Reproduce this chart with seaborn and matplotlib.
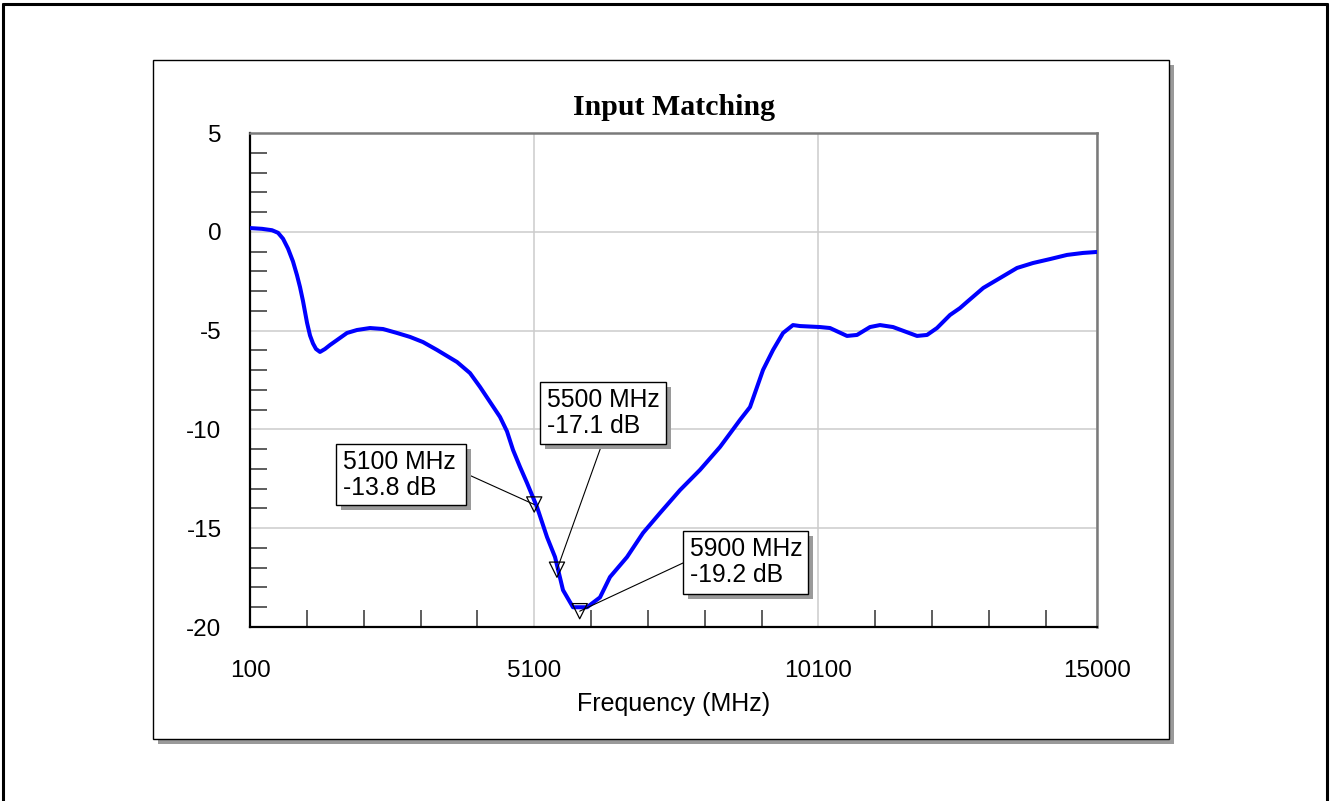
import matplotlib
matplotlib.use("Agg")
import matplotlib.pyplot as plt
from matplotlib.patches import Rectangle
from matplotlib.lines import Line2D
from matplotlib.ticker import FixedLocator, MultipleLocator
import seaborn as sns
import pandas as pd

# Measured input return loss (S11) of the amplifier
freq_mhz = [100, 311, 487, 593, 681, 769, 856, 927, 980, 1032, 1103, 1156, 1208,
            1261, 1331, 1419, 1507, 1630, 1806, 1982, 2211, 2440, 2686, 2915,
            3143, 3390, 3742, 3970, 4146, 4322, 4498, 4621, 4727, 4850, 4973,
            5149, 5325, 5466, 5606, 5782, 6029, 6257, 6433, 6732, 7014, 7313,
            7665, 8016, 8368, 8597, 8720, 8896, 9125, 9301, 9477, 9652, 9776,
            10127, 10303, 10602, 10778, 11007, 11183, 11412, 11834, 12010,
            12185, 12414, 12590, 12713, 13000, 13294, 13593, 13874, 14174,
            14473, 14754, 15000]
s11_db = [0.19, 0.15, 0.08, -0.05, -0.35, -0.85, -1.5, -2.2, -2.8, -3.5, -4.6,
          -5.25, -5.65, -5.93, -6.08, -5.93, -5.73, -5.48, -5.12, -4.97, -4.87,
          -4.92, -5.12, -5.32, -5.58, -5.98, -6.59, -7.15, -7.85, -8.61, -9.37,
          -10.1, -11.04, -11.9, -12.71, -13.93, -15.45, -16.46, -18.13, -19.0,
          -19.0, -18.5, -17.47, -16.46, -15.24, -14.23, -13.07, -12.05, -10.89,
          -10.0, -9.52, -8.87, -6.99, -5.98, -5.12, -4.72, -4.77, -4.82, -4.87,
          -5.27, -5.22, -4.82, -4.72, -4.82, -5.27, -5.22, -4.87, -4.21, -3.86,
          -3.55, -2.84, -2.34, -1.83, -1.58, -1.38, -1.17, -1.07, -1.02]

# Marker readouts
marker_freq = [5100, 5500, 5900]
marker_db = [-13.8, -17.1, -19.2]

x_ticks = [100, 5100, 10100, 15000]
y_ticks = [-20, -15, -10, -5, 0, 5]

sns.set_style("white")
plt.rcParams["font.family"] = ["Liberation Sans", "DejaVu Sans"]
plt.rcParams["axes.unicode_minus"] = False
plt.rcParams["text.color"] = "black"
plt.rcParams["xtick.color"] = "black"
plt.rcParams["ytick.color"] = "black"

W, H = 1330, 801
fig = plt.figure(figsize=(W / 100, H / 100), dpi=100)
fig.patch.set_facecolor("white")


def fx(px):
    return px / W


def fy(py):
    return 1 - py / H


# outer page frame
for xs, ys in [((3, 3), (4, 810)), ((3, 1327), (4, 4)), ((1327, 1327), (4, 810))]:
    fig.add_artist(Line2D([fx(x) for x in xs], [fy(y) for y in ys],
                          color="black", lw=2.2, transform=fig.transFigure,
                          clip_on=False))

# chart panel with drop shadow
fig.add_artist(Rectangle((fx(158), fy(744)), fx(1174) - fx(158), fy(65) - fy(744),
                         transform=fig.transFigure, facecolor="#9a9a9a",
                         edgecolor="none", zorder=0))
fig.add_artist(Rectangle((fx(153), fy(739)), fx(1169) - fx(153), fy(60) - fy(739),
                         transform=fig.transFigure, facecolor="white",
                         edgecolor="black", lw=1.0, zorder=0.5))

ax = fig.add_axes([fx(250), fy(627), fx(1097) - fx(250), fy(133) - fy(627)])
ax.set_zorder(2)
ax.patch.set_facecolor("white")

df = pd.DataFrame({"Frequency (MHz)": freq_mhz, "S11 (dB)": s11_db})
sns.lineplot(data=df, x="Frequency (MHz)", y="S11 (dB)", ax=ax,
             color="#0000ff", lw=2.9, zorder=3)

mk = pd.DataFrame({"f": marker_freq, "db": marker_db})
sns.scatterplot(data=mk, x="f", y="db", ax=ax, marker="v", s=120,
                facecolors="none", edgecolor="black", linewidth=0.9, zorder=4,
                clip_on=False)

ax.set_xlim(100, 15000)
ax.set_ylim(-20, 5)
ax.xaxis.set_major_locator(FixedLocator(x_ticks))
ax.yaxis.set_major_locator(FixedLocator(y_ticks))
ax.xaxis.set_minor_locator(FixedLocator(list(range(1100, 15000, 1000))))
ax.yaxis.set_minor_locator(MultipleLocator(1))
ax.set_xticklabels([str(v) for v in x_ticks])
ax.set_yticklabels([str(v) for v in y_ticks])
ax.tick_params(axis="both", which="both", bottom=True, left=True,
               top=False, right=False)
ax.tick_params(axis="both", which="major", length=0, labelsize=17.5,
               labelcolor="black")
ax.tick_params(axis="y", which="major", pad=20.5)
ax.tick_params(axis="x", which="major", pad=24)
ax.tick_params(axis="both", which="minor", direction="in", length=12,
               width=1.3, color="#505050")
ax.grid(True, which="major", color="#cccccc", lw=1.1)
ax.grid(False, which="minor")
ax.set_axisbelow(True)
ax.set_xlabel("")
ax.set_ylabel("")

for side in ["left", "bottom"]:
    ax.spines[side].set_color("black")
    ax.spines[side].set_linewidth(1.6)
for side in ["top", "right"]:
    ax.spines[side].set_color("#7a7a7a")
    ax.spines[side].set_linewidth(1.8)

fig.text(fx(674), fy(115), "Input Matching", ha="center", va="baseline",
         fontsize=21.5, fontweight="bold", family=["Liberation Serif"],
         color="black")
fig.text(fx(674), fy(711), "Frequency (MHz)", ha="center", va="baseline",
         fontsize=18, color="black")

# readout boxes: (left, top, right, bottom) and connector start, in pixels
boxes = [(336, 444, 466, 505), (540, 382, 666, 444), (683, 531, 808, 594)]
anchors = [(469, 475), (602, 444), (683, 563)]

for (l, t, r, b), (axp, ayp), f, db in zip(boxes, anchors, marker_freq, marker_db):
    ax.annotate("", xy=(f, db), xycoords="data", xytext=(fx(axp), fy(ayp)),
                textcoords="figure fraction",
                arrowprops=dict(arrowstyle="-", color="black", lw=0.8,
                                shrinkA=0, shrinkB=0), zorder=5)
    fig.add_artist(Rectangle((fx(l + 5), fy(b + 5)), fx(r) - fx(l), fy(t) - fy(b),
                             transform=fig.transFigure, facecolor="#9a9a9a",
                             edgecolor="none", zorder=6))
    fig.add_artist(Rectangle((fx(l), fy(b)), fx(r) - fx(l), fy(t) - fy(b),
                             transform=fig.transFigure, facecolor="white",
                             edgecolor="black", lw=1.0, zorder=7))
    fig.text(fx(l + 7), fy(t + 25), f"{f} MHz", ha="left", va="baseline",
             fontsize=17.8, zorder=8, color="black")
    fig.text(fx(l + 7), fy(t + 51), f"{db} dB", ha="left", va="baseline",
             fontsize=17.8, zorder=8, color="black")

fig.savefig("out.png", dpi=100, facecolor="white")
